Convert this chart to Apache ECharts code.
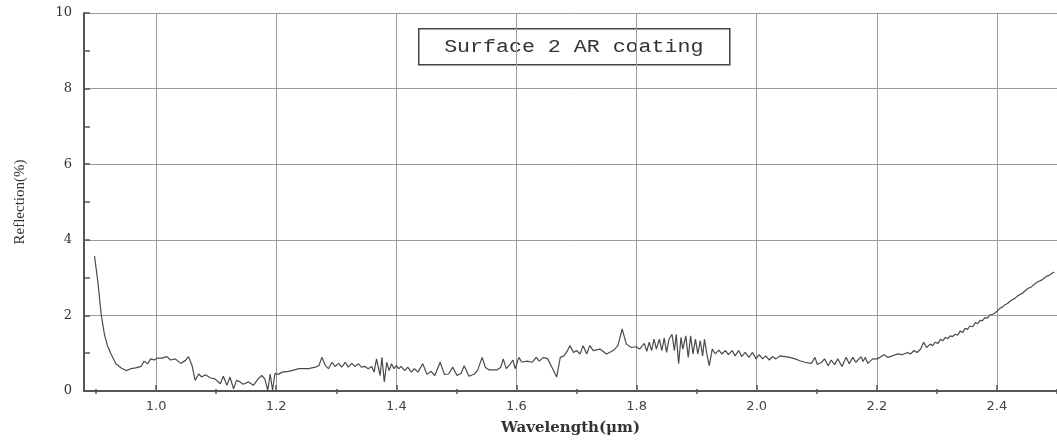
<!DOCTYPE html>
<html>
<head>
<meta charset="utf-8">
<script src="https://cdn.jsdelivr.net/npm/echarts@6/dist/echarts.min.js"></script>
<style>
    html, body { margin: 0; padding: 0; background: #fff; }
    #chart { width: 1057px; height: 441px; }
</style>
</head>
<body>
<div id="chart"></div>
<script>
// wavelength (um) and reflection (%)
var wavelength = [
    0.8975, 0.903, 0.9086, 0.914, 0.919, 0.925, 0.933, 0.942, 0.950, 0.958, 0.966, 0.975, 0.980, 0.986, 0.991, 0.997,
    1.002, 1.010, 1.018, 1.024, 1.032, 1.041, 1.049, 1.054, 1.060, 1.065, 1.071, 1.076, 1.082, 1.090, 1.098, 1.107,
    1.112, 1.118, 1.123, 1.129, 1.134, 1.140, 1.145, 1.154, 1.162, 1.170, 1.176, 1.181, 1.186, 1.190, 1.194, 1.198,
    1.203, 1.210, 1.221, 1.238, 1.254, 1.265, 1.271, 1.276, 1.282, 1.287, 1.293, 1.298, 1.304, 1.309, 1.315, 1.320,
    1.326, 1.331, 1.337, 1.342, 1.348, 1.353, 1.359, 1.363, 1.367, 1.373, 1.376, 1.380, 1.384, 1.388, 1.392, 1.396,
    1.400, 1.404, 1.408, 1.414, 1.419, 1.425, 1.430, 1.436, 1.444, 1.451, 1.458, 1.464, 1.473, 1.480, 1.487, 1.494,
    1.501, 1.508, 1.513, 1.521, 1.530, 1.535, 1.543, 1.548, 1.554, 1.568, 1.574, 1.578, 1.583, 1.590, 1.594, 1.598,
    1.604, 1.609, 1.618, 1.626, 1.633, 1.638, 1.645, 1.652, 1.659, 1.667, 1.673, 1.679, 1.685, 1.689, 1.695, 1.700,
    1.706, 1.711, 1.717, 1.722, 1.728, 1.739, 1.750, 1.761, 1.769, 1.776, 1.783, 1.791, 1.799, 1.805, 1.808, 1.813,
    1.817, 1.821, 1.825, 1.829, 1.833, 1.838, 1.842, 1.846, 1.850, 1.854, 1.859, 1.863, 1.866, 1.870, 1.874, 1.877,
    1.882, 1.886, 1.890, 1.894, 1.898, 1.902, 1.906, 1.910, 1.913, 1.917, 1.921, 1.926, 1.931, 1.937, 1.942, 1.948,
    1.953, 1.959, 1.964, 1.970, 1.975, 1.981, 1.987, 1.993, 1.999, 2.004, 2.010, 2.015, 2.021, 2.026, 2.032, 2.039,
    2.047, 2.055, 2.064, 2.072, 2.080, 2.091, 2.097, 2.101, 2.108, 2.113, 2.119, 2.124, 2.130, 2.135, 2.142, 2.149,
    2.154, 2.160, 2.165, 2.174, 2.177, 2.181, 2.185, 2.193, 2.201, 2.212, 2.218, 2.226, 2.234, 2.242, 2.251, 2.256,
    2.262, 2.267, 2.273, 2.278, 2.283, 2.289, 2.293, 2.297, 2.302, 2.306, 2.310, 2.314, 2.318, 2.322, 2.326, 2.331,
    2.335, 2.339, 2.343, 2.347, 2.351, 2.355, 2.360, 2.364, 2.368, 2.372, 2.376, 2.380, 2.384, 2.388, 2.393, 2.397,
    2.401, 2.405, 2.409, 2.413, 2.417, 2.421, 2.426, 2.430, 2.434, 2.438, 2.442, 2.446, 2.450, 2.454, 2.458, 2.462,
    2.467, 2.471, 2.475, 2.479, 2.483, 2.487, 2.495
];
var reflection = [
    3.57, 2.90, 2.03, 1.50, 1.20, 0.98, 0.72, 0.61, 0.54, 0.59, 0.61, 0.65, 0.79, 0.72, 0.85, 0.82,
    0.87, 0.87, 0.91, 0.82, 0.85, 0.73, 0.81, 0.91, 0.67, 0.28, 0.45, 0.37, 0.43, 0.35, 0.32, 0.19,
    0.39, 0.15, 0.37, 0.06, 0.28, 0.24, 0.18, 0.24, 0.15, 0.32, 0.41, 0.32, 0.02, 0.45, 0.02, 0.47,
    0.44, 0.50, 0.52, 0.59, 0.59, 0.63, 0.67, 0.89, 0.67, 0.59, 0.76, 0.65, 0.73, 0.63, 0.76, 0.63,
    0.73, 0.65, 0.72, 0.63, 0.65, 0.59, 0.65, 0.50, 0.85, 0.41, 0.89, 0.24, 0.76, 0.54, 0.72, 0.59,
    0.67, 0.59, 0.65, 0.54, 0.63, 0.50, 0.59, 0.50, 0.72, 0.44, 0.52, 0.41, 0.76, 0.44, 0.45, 0.63,
    0.41, 0.47, 0.67, 0.39, 0.45, 0.54, 0.89, 0.63, 0.56, 0.56, 0.63, 0.85, 0.59, 0.72, 0.82, 0.59,
    0.89, 0.76, 0.79, 0.76, 0.89, 0.79, 0.89, 0.85, 0.63, 0.37, 0.89, 0.93, 1.07, 1.20, 1.02, 1.07,
    0.98, 1.20, 0.98, 1.20, 1.07, 1.11, 0.98, 1.07, 1.20, 1.64, 1.24, 1.15, 1.17, 1.11, 1.07, 1.26,
    1.05, 1.29, 1.07, 1.37, 1.11, 1.37, 1.07, 1.40, 1.02, 1.37, 1.50, 1.07, 1.50, 0.72, 1.42, 1.11,
    1.46, 0.89, 1.46, 0.98, 1.37, 0.98, 1.33, 0.93, 1.37, 0.98, 0.67, 1.11, 0.98, 1.08, 0.98, 1.07,
    0.96, 1.07, 0.93, 1.07, 0.91, 1.02, 0.89, 1.02, 0.85, 0.96, 0.85, 0.93, 0.82, 0.91, 0.85, 0.93,
    0.91, 0.89, 0.85, 0.80, 0.76, 0.73, 0.89, 0.70, 0.76, 0.85, 0.67, 0.82, 0.70, 0.85, 0.65, 0.89,
    0.72, 0.89, 0.76, 0.91, 0.78, 0.89, 0.73, 0.85, 0.85, 0.96, 0.89, 0.93, 0.98, 0.96, 1.02, 0.98,
    1.07, 1.02, 1.11, 1.29, 1.15, 1.24, 1.20, 1.29, 1.26, 1.37, 1.33, 1.42, 1.38, 1.46, 1.44, 1.50,
    1.48, 1.59, 1.55, 1.66, 1.63, 1.72, 1.70, 1.81, 1.78, 1.87, 1.86, 1.94, 1.93, 2.01, 2.03, 2.07,
    2.12, 2.19, 2.22, 2.28, 2.31, 2.36, 2.42, 2.45, 2.51, 2.55, 2.58, 2.64, 2.69, 2.73, 2.76, 2.82,
    2.88, 2.91, 2.94, 2.99, 3.04, 3.06, 3.15
];
// odd tenths carry the small ticks on the wavelength axis
var xMinorTicks = [0.9, 1.1, 1.3, 1.5, 1.7, 1.9, 2.1, 2.3, 2.5];
var xMin = 0.88, xMax = 2.5;
var legendText = 'Surface 2 AR coating';

var chart = echarts.init(document.getElementById('chart'));
var gridBox = {left: 84, top: 13, right: -6, bottom: 47};

var option = {
    backgroundColor: '#ffffff',
    animation: false,
    grid: [
        Object.assign({}, gridBox),
        Object.assign({}, gridBox)
    ],
    xAxis: [{
        type: 'value',
        gridIndex: 0,
        min: xMin,
        max: xMax,
        splitNumber: 8,
        name: 'Wavelength(\u03bcm)',
        nameLocation: 'middle',
        nameGap: 30,
        nameTextStyle: {fontFamily: 'DejaVu Serif', fontWeight: 'bold', fontSize: 15, color: '#333'},
        axisLine: {lineStyle: {color: '#555', width: 2}},
        axisTick: {inside: true, length: 6, lineStyle: {color: '#555', width: 1.5}},
        axisLabel: {
            showMinLabel: false,
            showMaxLabel: false,
            margin: 9,
            fontFamily: 'DejaVu Sans',
            fontSize: 13,
            color: '#444',
            formatter: function (v) { return v.toFixed(1); }
        },
        splitLine: {lineStyle: {color: '#9a9a9a', width: 1}}
    }, {
        type: 'value',
        gridIndex: 1,
        min: xMin,
        max: xMax,
        axisLine: {show: false},
        axisLabel: {show: false},
        splitLine: {show: false},
        axisTick: {inside: true, length: 5, customValues: xMinorTicks, lineStyle: {color: '#555', width: 1.5}}
    }],
    yAxis: [{
        type: 'value',
        gridIndex: 0,
        min: 0,
        max: 10,
        interval: 2,
        name: 'Reflection(%)',
        nameLocation: 'middle',
        nameGap: 56,
        nameTextStyle: {fontFamily: 'Liberation Serif', fontSize: 15, color: '#333'},
        axisLine: {show: true, lineStyle: {color: '#555', width: 2}},
        axisTick: {show: true, inside: true, length: 6, lineStyle: {color: '#555', width: 1.5}},
        minorTick: {show: true, splitNumber: 2, length: 6, lineStyle: {color: '#555', width: 1.5}},
        axisLabel: {margin: 12, fontFamily: 'DejaVu Serif', fontSize: 13, color: '#333'},
        splitLine: {lineStyle: {color: '#9a9a9a', width: 1}}
    }, {
        type: 'value',
        gridIndex: 1,
        min: 0,
        max: 10,
        show: false
    }],
    graphic: [{
        type: 'group',
        left: 418,
        top: 28,
        z: 10,
        children: [{
            type: 'rect',
            shape: {x: 0, y: 0, width: 311, height: 36},
            style: {fill: '#ffffff', stroke: '#444', lineWidth: 1.5}
        }, {
            type: 'text',
            x: 155,
            y: 18,
            scaleX: 1.2,
            style: {
                text: legendText,
                fontFamily: 'Liberation Mono',
                fontSize: 18,
                fill: '#333',
                align: 'center',
                verticalAlign: 'middle'
            }
        }]
    }],
    series: [{
        name: 'Reflection',
        type: 'line',
        xAxisIndex: 0,
        yAxisIndex: 0,
        showSymbol: false,
        symbol: 'none',
        lineStyle: {color: '#4a4a4a', width: 1.2},
        data: wavelength.map(function (w, i) { return [w, reflection[i]]; })
    }]
};
chart.setOption(option);
</script>
</body>
</html>
